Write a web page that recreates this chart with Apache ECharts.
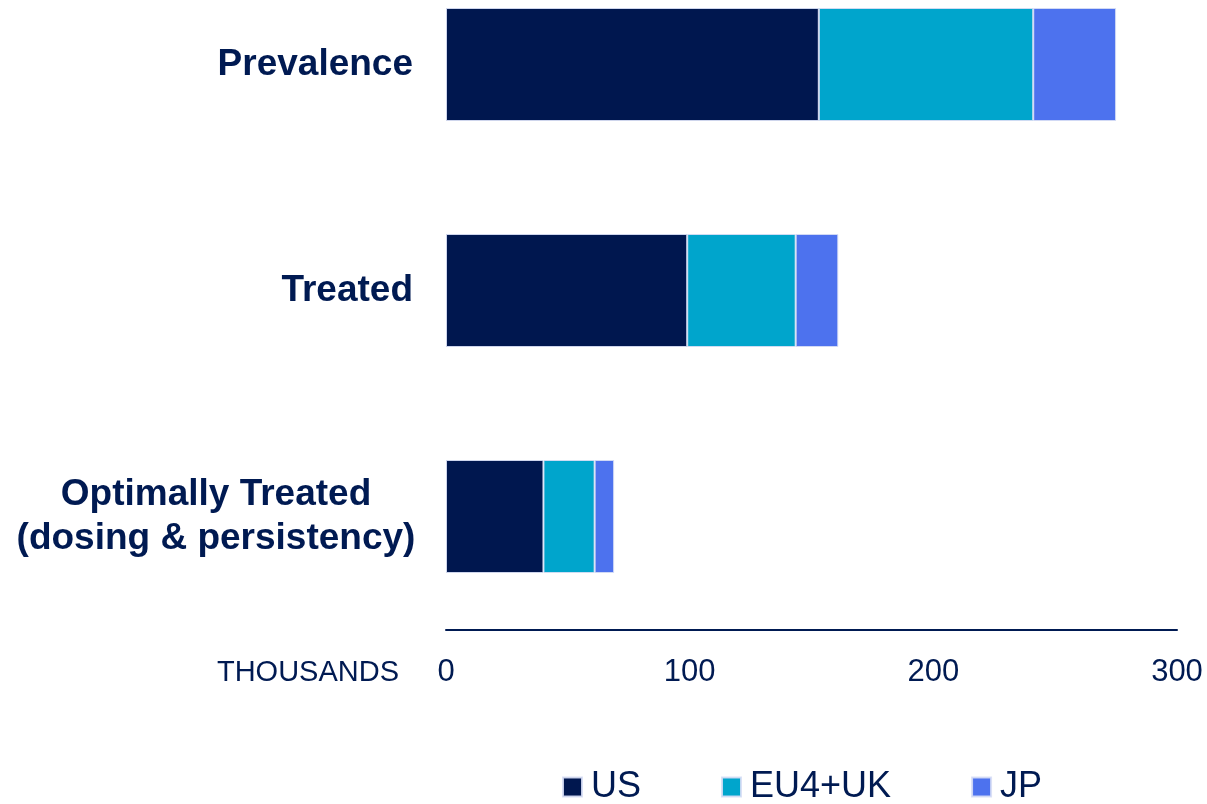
<!DOCTYPE html>
<html>
<head>
<meta charset="utf-8">
<script src="https://cdn.jsdelivr.net/npm/echarts@6/dist/echarts.min.js"></script>
<style>
  html, body { margin: 0; padding: 0; background: #ffffff; }
  #chart { width: 1207px; height: 804px; }
</style>
</head>
<body>
<div id="chart"></div>
<script>
// Patient funnel, in thousands, split by region
const categories = ['Prevalence', 'Treated', 'Optimally Treated\n(dosing & persistency)'];
const usValues = [153, 99, 40];
const euValues = [88, 44.5, 21];
const jpValues = [34, 17.5, 8];
const seriesNames = ['US', 'EU4+UK', 'JP'];
const axisMax = 300;
const axisStep = 100;
const unitLabel = 'THOUSANDS';

const NAVY = '#001a52';
const colors = ['#00174f', '#00a5cc', '#4d72ee'];
const FONT = '"Liberation Sans", Arial, sans-serif';

const chart = echarts.init(document.getElementById('chart'), null, { renderer: 'canvas' });

const makeSeries = (name, values, color) => ({
  name: name,
  type: 'bar',
  stack: 'total',
  barWidth: 113,
  data: values,
  itemStyle: {
    color: color,
    borderColor: 'rgba(215,222,245,0.9)',
    borderWidth: 1
  },
  emphasis: { disabled: true }
});

chart.setOption({
  animation: false,
  color: colors,
  // category ticks sit on the first and last bar centres; the value axis is pushed
  // down half a band below the last bar
  grid: { left: 446, right: 30, top: 64.5, bottom: 287.5, containLabel: false },
  xAxis: {
    type: 'value',
    min: 0,
    max: axisMax,
    interval: axisStep,
    offset: 113,
    axisLine: { show: true, lineStyle: { color: NAVY, width: 2 } },
    axisTick: { show: false },
    splitLine: { show: false },
    axisLabel: { color: NAVY, fontFamily: FONT, fontSize: 31, margin: 27 }
  },
  yAxis: {
    type: 'category',
    inverse: true,
    boundaryGap: false,
    data: categories,
    axisLine: { show: false },
    axisTick: { show: false },
    splitLine: { show: false },
    axisLabel: {
      margin: 33,
      color: NAVY,
      fontFamily: FONT,
      fontSize: 37,
      fontWeight: 'bold',
      lineHeight: 44,
      formatter: (value) => {
        const lines = value.split('\n');
        if (lines.length === 1) return value;
        return lines.map(l => '{c|' + l + '}').join('\n');
      },
      rich: {
        c: {
          width: 394,
          align: 'center',
          color: NAVY,
          fontFamily: FONT,
          fontSize: 37,
          fontWeight: 'bold',
          lineHeight: 44
        }
      }
    }
  },
  legend: {
    data: seriesNames,
    left: 562,
    top: 769,
    padding: 0,
    itemGap: 80,
    itemWidth: 19,
    itemHeight: 19,
    icon: 'rect',
    textStyle: { color: NAVY, fontFamily: FONT, fontSize: 36, padding: [0, 0, 0, 4] }
  },
  graphic: [{
    type: 'text',
    right: 1207 - 399,
    top: 658,
    style: { text: unitLabel, fill: NAVY, font: '29px ' + FONT }
  }],
  series: [
    makeSeries(seriesNames[0], usValues, colors[0]),
    makeSeries(seriesNames[1], euValues, colors[1]),
    makeSeries(seriesNames[2], jpValues, colors[2])
  ]
});
</script>
</body>
</html>
